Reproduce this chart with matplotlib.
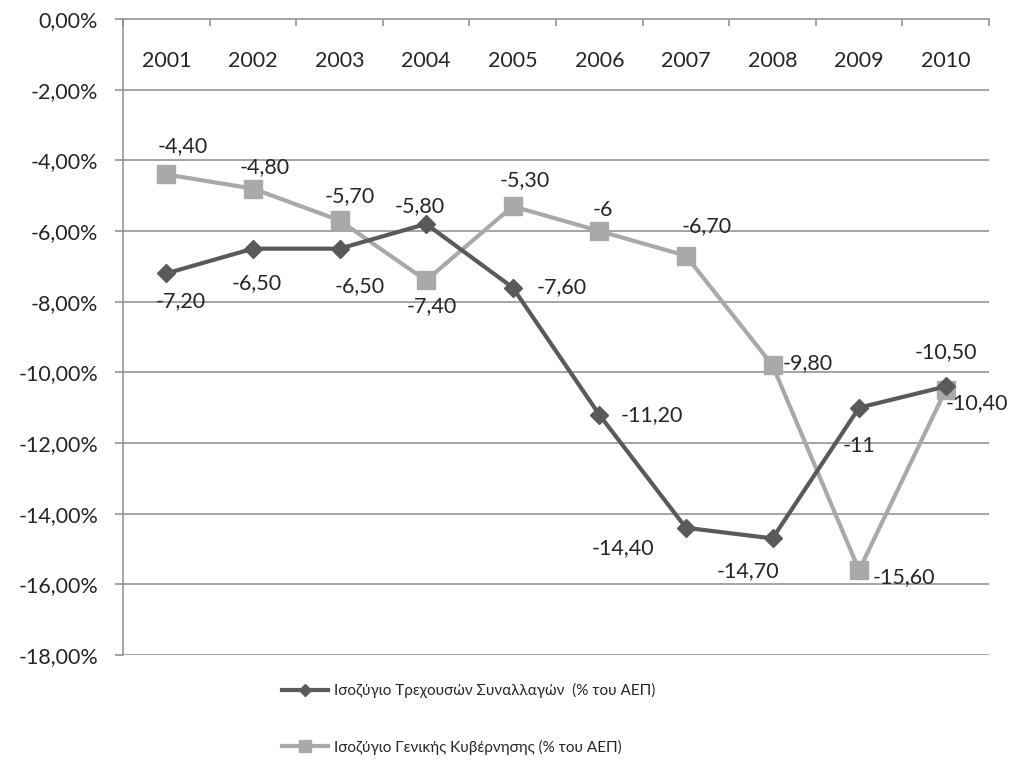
import numpy as np
import matplotlib
matplotlib.use("Agg")
import matplotlib.pyplot as plt
from matplotlib.ticker import FixedLocator, FuncFormatter

plt.rcParams["font.family"] = ["Lato", "DejaVu Sans"]

years = ["2001", "2002", "2003", "2004", "2005", "2006", "2007", "2008", "2009", "2010"]
current_account = [-7.2, -6.5, -6.5, -5.8, -7.6, -11.2, -14.4, -14.7, -11.0, -10.4]
government = [-4.4, -4.8, -5.7, -7.4, -5.3, -6.0, -6.7, -9.8, -15.6, -10.5]
name_ca = "Ισοζύγιο Τρεχουσών Συναλλαγών  (% του ΑΕΠ)"
name_gov = "Ισοζύγιο Γενικής Κυβέρνησης (% του ΑΕΠ)"

# label offsets in pixels (dx, dy with y up) and horizontal alignment
ca_offsets = [(14, -28, "center"), (4, -34, "center"), (20, -37, "center"),
              (-6, 18, "center"), (24, 0, "left"), (21, 0, "left"),
              (-63, -20, "center"), (-25, -33, "center"), (0, -38, "center"),
              (0, -17, "left")]
gov_offsets = [(16, 28, "center"), (12, 22, "center"), (10, 24, "center"),
               (6, -26, "center"), (12, 26, "center"), (4, 21, "center"),
               (21, 30, "center"), (10, 2, "left"), (14, -7, "left"),
               (0, 38, "center")]

DARK = "#5a5a5a"
LIGHT = "#a9a9a9"
GRID = "#8c8c8c"
TXT = "#262626"
FS = 15.5


def fmt_label(v):
    if float(v).is_integer():
        return f"{int(v)}"
    return f"{v:.2f}".replace(".", ",")


def fmt_pct(v, pos):
    if abs(v) < 1e-9:
        v = 0.0
    return f"{v:.2f}%".replace(".", ",")


fig = plt.figure(figsize=(10.09, 7.76), dpi=100)
W, H = 1009, 776
ax = fig.add_axes([123 / W, 1 - 655 / H, (989 - 123) / W, (655 - 19) / H])

x = np.arange(len(years))
ax.set_xlim(-0.5, len(years) - 0.5)
ax.set_ylim(-18, 0)

for yv in np.arange(-18, 0, 2):
    ax.axhline(yv, color=GRID, lw=1.1, zorder=1)

l1, = ax.plot(x, current_account, color=DARK, lw=3.0, marker="D", markersize=9,
              zorder=4, label=name_ca)
l2, = ax.plot(x, government, color=LIGHT, lw=3.0, marker="s", markersize=12.5,
              zorder=3, label=name_gov)

for xi, v, (dx, dy, ha) in zip(x, current_account, ca_offsets):
    ax.annotate(fmt_label(v), (xi, v), xytext=(dx, dy), textcoords="offset pixels",
                ha=ha, va="center", fontsize=FS, color=TXT, zorder=5)
for xi, v, (dx, dy, ha) in zip(x, government, gov_offsets):
    ax.annotate(fmt_label(v), (xi, v), xytext=(dx, dy), textcoords="offset pixels",
                ha=ha, va="center", fontsize=FS, color=TXT, zorder=5)

# year labels sit just under the top (0%) axis
for xi, yr in zip(x, years):
    ax.text(xi, -1.2, yr, ha="center", va="center", fontsize=FS, color=TXT)

for s in ["right", "bottom"]:
    ax.spines[s].set_visible(False)
for s in ["left", "top"]:
    ax.spines[s].set_color(GRID)
    ax.spines[s].set_linewidth(1.1)

ax.yaxis.set_major_locator(FixedLocator(np.arange(-18, 0.1, 2)))
ax.yaxis.set_major_formatter(FuncFormatter(fmt_pct))
ax.tick_params(axis="y", direction="out", length=6, width=1.1, color=GRID,
               pad=12, labelsize=FS, labelcolor=TXT)

ax.xaxis.set_major_locator(FixedLocator(np.arange(-0.5, len(years), 1)))
ax.xaxis.tick_top()
ax.tick_params(axis="x", direction="in", length=5, width=1.1, color=GRID,
               labeltop=False, labelbottom=False)

fig.legend(handles=[l1, l2], loc="center", bbox_to_anchor=(469 / W, 1 - 719 / H),
           frameon=False, fontsize=11, labelspacing=2.7, handlelength=3.0,
           handletextpad=0.4, markerscale=0.7, labelcolor=TXT)

fig.savefig("out.png", dpi=100, facecolor="white")
